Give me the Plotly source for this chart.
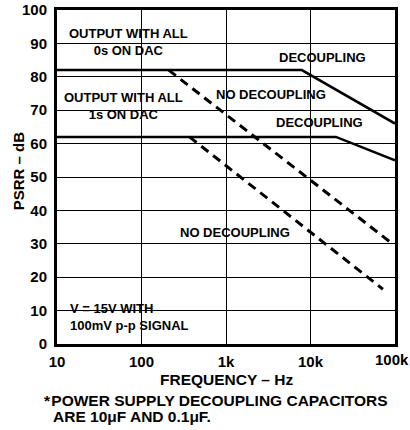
import plotly.graph_objects as go

# ---- data ----
dec0_x = [10, 7900, 100000]
dec0_y = [82, 82, 66]
nodec0_x = [210, 88000]
nodec0_y = [82, 30.5]
dec1_x = [10, 20000, 100000]
dec1_y = [62, 62, 55]
nodec1_x = [370, 72000]
nodec1_y = [62, 16.4]

x_tickvals = [10, 100, 1000, 10000, 100000]
x_ticktext = ["10", "100", "1k", "10k", "100k"]
y_tickvals = [0, 10, 20, 30, 40, 50, 60, 70, 80, 90, 100]

FONT = "Liberation Sans, Arial, Helvetica, sans-serif"

# ---- layout geometry (pixels) ----
W, H = 410, 430
PL, PR, PT, PB = 57, 395, 9.5, 344  # plot area edges


def px(x):
    return (x - PL) / (PR - PL)


def py(y):
    return (PB - y) / (PB - PT)


def f(size):
    return dict(family=FONT, size=size, color="black", weight="bold")


fig = go.Figure()
fig.add_trace(go.Scatter(x=dec0_x, y=dec0_y, mode="lines",
                         line=dict(color="black", width=2.5), showlegend=False))
fig.add_trace(go.Scatter(x=nodec0_x, y=nodec0_y, mode="lines",
                         line=dict(color="black", width=3, dash="9px,6px"), showlegend=False))
fig.add_trace(go.Scatter(x=dec1_x, y=dec1_y, mode="lines",
                         line=dict(color="black", width=2.5), showlegend=False))
fig.add_trace(go.Scatter(x=nodec1_x, y=nodec1_y, mode="lines",
                         line=dict(color="black", width=3, dash="9px,6px"), showlegend=False))

# white boxes that interrupt the grid behind labels (x0, x1, y0, y1 in px)
boxes = [
    (57, 203, 15, 55),
    (57, 187, 90, 128),
    (276, 369, 50, 64),
    (215, 327, 86, 102),
    (274, 365, 115, 130),
    (178, 292, 225, 239),
    (63, 197, 300, 333),
]
for x0, x1, y0, y1 in boxes:
    fig.add_shape(type="rect", xref="paper", yref="paper",
                  x0=px(x0), x1=px(x1), y0=py(y1), y1=py(y0),
                  fillcolor="white", line=dict(width=0), layer="between")

# text labels (x px, y px, text, xanchor, align)
texts = [
    (128, 42, "OUTPUT WITH ALL<br>0s ON DAC", "center", "center"),
    (123, 106, "OUTPUT WITH ALL<br>1s ON DAC", "center", "center"),
    (322.5, 57, "DECOUPLING", "center", "center"),
    (271, 94, "NO DECOUPLING", "center", "center"),
    (319.5, 122.5, "DECOUPLING", "center", "center"),
    (235, 232, "NO DECOUPLING", "center", "center"),
    (69, 316.5, "V = 15V WITH<br>100mV p-p SIGNAL", "left", "left"),
]
for tx, ty, t, xa, al in texts:
    fig.add_annotation(x=px(tx), y=py(ty), xref="paper", yref="paper", text=t,
                       showarrow=False, xanchor=xa, yanchor="middle", borderpad=0,
                       align=al, font=f(13))

# last x tick label placed flush with the right edge
fig.add_annotation(x=px(410), y=py(360), xref="paper", yref="paper",
                   text=x_ticktext[-1], showarrow=False, xanchor="right",
                   yanchor="middle", borderpad=0, font=f(15))

# axis titles and footnote
fig.add_annotation(x=px(226.5), y=py(380), xref="paper", yref="paper",
                   text="FREQUENCY – Hz", showarrow=False, xanchor="center",
                   yanchor="middle", font=f(15.5))
fig.add_annotation(x=px(18), y=py(171), xref="paper", yref="paper",
                   text="PSRR – dB", showarrow=False, textangle=-90,
                   xanchor="center", yanchor="middle", font=f(15))
fig.add_annotation(x=px(42), y=py(401), xref="paper", yref="paper", xanchor="left",
                   yanchor="middle", showarrow=False,
                   text="*\u200aPOWER SUPPLY DECOUPLING CAPACITORS", font=f(15.5))
fig.add_annotation(x=px(51), y=py(417), xref="paper", yref="paper", xanchor="left",
                   yanchor="middle", showarrow=False,
                   text="ARE 10μF AND 0.1μF.", font=f(15.5))

fig.update_xaxes(type="log", range=[1, 5], tickvals=x_tickvals[:-1],
                 ticktext=x_ticktext[:-1],
                 showgrid=True, gridcolor="black", gridwidth=1,
                 showline=True, linecolor="black", linewidth=3, mirror=True,
                 ticks="", zeroline=False, automargin=False, ticklabeloverflow="allow",
                 ticklabelstandoff=2, tickfont=f(15))
fig.update_yaxes(range=[0, 100], tickvals=y_tickvals,
                 showgrid=True, gridcolor="black", gridwidth=1,
                 showline=True, linecolor="black", linewidth=3, mirror=True,
                 ticks="", zeroline=False, automargin=False, ticklabeloverflow="allow",
                 ticklabelstandoff=4, tickfont=f(15))

fig.update_layout(width=W, height=H,
                  margin=dict(l=PL, r=W - PR, t=PT, b=H - PB, pad=0),
                  paper_bgcolor="white", plot_bgcolor="white",
                  font=dict(family=FONT, color="black"))

fig.write_html("out.html", config={"displayModeBar": False},
               post_script="document.body.style.margin='0px';")
